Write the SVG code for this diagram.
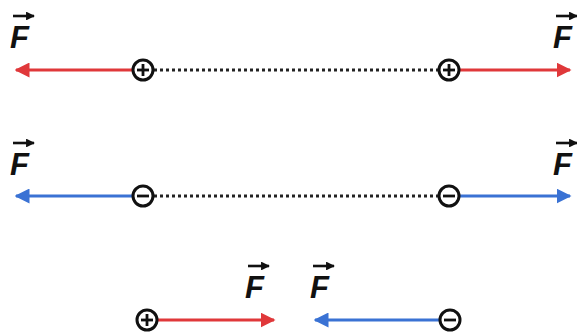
<svg xmlns="http://www.w3.org/2000/svg" width="577" height="334" viewBox="0 0 577 334">
<style>
.lbl{font-family:"Liberation Sans",Arial,sans-serif;font-weight:bold;font-style:italic;font-size:31px;fill:#111}
.red{stroke:#e0383a;stroke-width:3;fill:none}
.blue{stroke:#3a72d4;stroke-width:3;fill:none}
.dots{stroke:#222;stroke-width:3;stroke-dasharray:3 3;fill:none}
.chg{fill:#fff;stroke:#111;stroke-width:3}
.sign{stroke:#111;stroke-width:2.8}
.vec{stroke:#111;stroke-width:2.6}
</style>
<defs>
<marker id="ar" viewBox="0 0 10 10" refX="9" refY="5" markerWidth="5" markerHeight="5" orient="auto-start-reverse"><path d="M0,0L10,5L0,10z" fill="#e0383a"/></marker>
<marker id="ab" viewBox="0 0 10 10" refX="9" refY="5" markerWidth="5" markerHeight="5" orient="auto-start-reverse"><path d="M0,0L10,5L0,10z" fill="#3a72d4"/></marker>
<marker id="ak" viewBox="0 0 10 10" refX="9" refY="5" markerWidth="3.4" markerHeight="3.4" orient="auto"><path d="M0,0L10,5L0,10z" fill="#111"/></marker>
<g id="fl">
<line class="vec" x1="3" y1="0" x2="24" y2="0" marker-end="url(#ak)"/>
<text class="lbl" x="0" y="32">F</text>
</g>
</defs>
<g id="connectors">
<line class="dots" x1="154" y1="70" x2="440" y2="70"/>
<line class="dots" x1="154" y1="196" x2="440" y2="196"/>
<line class="red" x1="134" y1="70" x2="16" y2="70" marker-end="url(#ar)"/>
<line class="red" x1="459" y1="70" x2="570" y2="70" marker-end="url(#ar)"/>
<line class="blue" x1="134" y1="196" x2="16" y2="196" marker-end="url(#ab)"/>
<line class="blue" x1="459" y1="196" x2="570" y2="196" marker-end="url(#ab)"/>
<line class="red" x1="156" y1="320" x2="274" y2="320" marker-end="url(#ar)"/>
<line class="blue" x1="441" y1="320" x2="315" y2="320" marker-end="url(#ab)"/>
</g>
<g id="q1"><circle class="chg" cx="143" cy="70" r="10"/><line class="sign" x1="137" y1="70" x2="149" y2="70"/><line class="sign" x1="143" y1="64" x2="143" y2="76"/></g>
<g id="q2"><circle class="chg" cx="449" cy="70" r="10"/><line class="sign" x1="443" y1="70" x2="455" y2="70"/><line class="sign" x1="449" y1="64" x2="449" y2="76"/></g>
<g id="q3"><circle class="chg" cx="143" cy="196" r="10"/><line class="sign" x1="137" y1="196" x2="149" y2="196"/></g>
<g id="q4"><circle class="chg" cx="449" cy="196" r="10"/><line class="sign" x1="443" y1="196" x2="455" y2="196"/></g>
<g id="q5"><circle class="chg" cx="147" cy="320" r="10"/><line class="sign" x1="141" y1="320" x2="153" y2="320"/><line class="sign" x1="147" y1="314" x2="147" y2="326"/></g>
<g id="q6"><circle class="chg" cx="450" cy="320" r="10"/><line class="sign" x1="444" y1="320" x2="456" y2="320"/></g>
<g id="labels">
<use href="#fl" x="10" y="16"/>
<use href="#fl" x="553" y="16"/>
<use href="#fl" x="10" y="143"/>
<use href="#fl" x="553" y="143"/>
<use href="#fl" x="245" y="266"/>
<use href="#fl" x="310" y="266"/>
</g>
</svg>
